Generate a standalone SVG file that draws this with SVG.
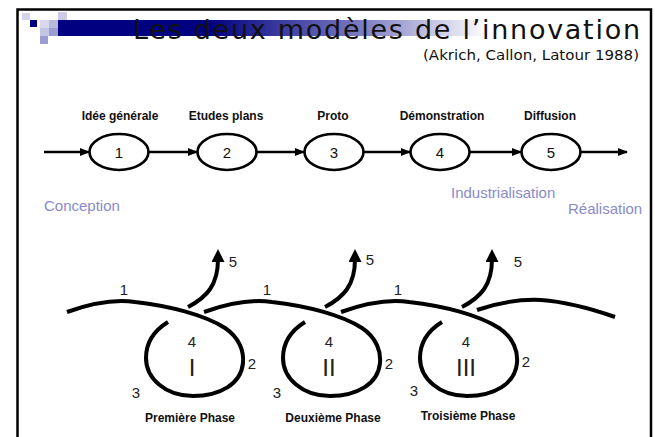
<svg xmlns="http://www.w3.org/2000/svg" width="655" height="437" viewBox="0 0 655 437">
<defs>
<linearGradient id="bar" x1="0" y1="0" x2="1" y2="0">
<stop offset="0" stop-color="#000080"/>
<stop offset="0.35" stop-color="#000080"/>
<stop offset="0.7" stop-color="#7a7ac0"/>
<stop offset="1" stop-color="#ffffff"/>
</linearGradient>
<marker id="ah" markerWidth="10" markerHeight="8" refX="9" refY="4" orient="auto" markerUnits="userSpaceOnUse">
<path d="M0,0 L10,4 L0,8 Z" fill="#000"/>
</marker>
<marker id="ah2" markerWidth="14" markerHeight="13" refX="3" refY="6.5" orient="auto" markerUnits="userSpaceOnUse">
<path d="M0,0 L13,6.5 L0,13 Z" fill="#000"/>
</marker>
<g id="phase">
<path class="sp" d="M67,312 C95,302 115,299 135,302 C170,306 205,315 225,328 C240,338 244,352 243,363 C241,384 220,396 193,396 C165,396 146,378 146,358 C146,342 155,330 168,322"/>
<path class="sp" d="M188,307 C207,297 218,285 218,259" marker-end="url(#ah2)"/>
</g>
</defs>
<style>
.sp{fill:none;stroke:#000;stroke-width:4;stroke-linecap:butt}
.el{fill:none;stroke:#000;stroke-width:2.6}
.ar{fill:none;stroke:#000;stroke-width:2.6}
.lab{font-family:"Liberation Sans",Arial,sans-serif;font-weight:bold;font-size:12px;fill:#111;text-anchor:middle}
.num{font-family:"Liberation Sans",Arial,sans-serif;font-size:15px;fill:#111;text-anchor:middle}
.sn{font-family:"Liberation Sans",Arial,sans-serif;font-size:15px;fill:#222;text-anchor:middle}
.rn{font-family:"Liberation Sans",Arial,sans-serif;font-size:24px;fill:#222;text-anchor:middle}
.lv{font-family:"Liberation Sans",Arial,sans-serif;font-size:15px;fill:#8a8acc}
</style>
<rect width="655" height="437" fill="#fff"/>
<rect x="17.5" y="9.5" width="633.5" height="450" fill="none" stroke="#000" stroke-width="2.5"/>
<g id="header">
<rect x="22" y="13" width="8" height="7" fill="#d4d4ea"/>
<rect x="30" y="20" width="7" height="7" fill="#000080"/>
<rect x="40" y="20" width="9" height="8" fill="#d8d8ee"/>
<rect x="49" y="20" width="9" height="8" fill="#b8b8dc"/>
<rect x="40" y="28" width="9" height="8" fill="#c4c4e4"/>
<rect x="49" y="28" width="9" height="8" fill="#9c9cd0"/>
<rect x="40" y="36" width="8" height="8" fill="#9c9cd0"/>
<rect x="58" y="12" width="9" height="8" fill="#ccccea"/>
<rect x="58" y="20" width="430" height="16" fill="url(#bar)"/>
<text x="640" y="39" text-anchor="end" font-family="DejaVu Sans,sans-serif" font-size="27" fill="#111" textLength="507" lengthAdjust="spacing">Les deux modèles de l’innovation</text>
<text x="639" y="60" text-anchor="end" font-family="DejaVu Sans,sans-serif" font-size="14.5" fill="#111" textLength="216" lengthAdjust="spacingAndGlyphs">(Akrich, Callon, Latour 1988)</text>
</g>
<g id="connectors">
<line class="ar" x1="44" y1="152" x2="89" y2="152" marker-end="url(#ah)"/>
<line class="ar" x1="149" y1="152" x2="197" y2="152" marker-end="url(#ah)"/>
<line class="ar" x1="257" y1="152" x2="304" y2="152" marker-end="url(#ah)"/>
<line class="ar" x1="364" y1="152" x2="410" y2="152" marker-end="url(#ah)"/>
<line class="ar" x1="470" y1="152" x2="521" y2="152" marker-end="url(#ah)"/>
<line class="ar" x1="581" y1="152" x2="627" y2="152" marker-end="url(#ah)"/>
</g>
<g id="n1"><text class="lab" x="120" y="120">Idée générale</text><ellipse class="el" cx="119" cy="152" rx="29.5" ry="18"/><text class="num" x="119" y="158">1</text></g>
<g id="n2"><text class="lab" x="226" y="120">Etudes plans</text><ellipse class="el" cx="227" cy="152" rx="29.5" ry="18"/><text class="num" x="227" y="158">2</text></g>
<g id="n3"><text class="lab" x="333" y="120">Proto</text><ellipse class="el" cx="334" cy="152" rx="29.5" ry="18"/><text class="num" x="334" y="158">3</text></g>
<g id="n4"><text class="lab" x="442" y="120">Démonstration</text><ellipse class="el" cx="440" cy="152" rx="29.5" ry="18"/><text class="num" x="440" y="158">4</text></g>
<g id="n5"><text class="lab" x="550" y="120">Diffusion</text><ellipse class="el" cx="551" cy="152" rx="29.5" ry="18"/><text class="num" x="551" y="158">5</text></g>
<g id="stages">
<text class="lv" x="44" y="211">Conception</text>
<text class="lv" x="451" y="198">Industrialisation</text>
<text class="lv" x="568" y="214">Réalisation</text>
</g>
<g id="phase1">
<use href="#phase"/>
<text class="sn" x="124" y="295">1</text>
<text class="sn" x="233" y="267">5</text>
<text class="sn" x="192" y="347">4</text>
<text class="rn" x="192" y="376">I</text>
<text class="sn" x="252" y="369">2</text>
<text class="sn" x="136" y="398">3</text>
<text class="lab" x="190" y="422">Première Phase</text>
</g>
<g id="phase2">
<use href="#phase" transform="translate(137,0)"/>
<text class="sn" x="267" y="295">1</text>
<text class="sn" x="370" y="265">5</text>
<text class="sn" x="329" y="347">4</text>
<text class="rn" x="329" y="376">II</text>
<text class="sn" x="389" y="369">2</text>
<text class="sn" x="277" y="398">3</text>
<text class="lab" x="333" y="422">Deuxième Phase</text>
</g>
<g id="phase3">
<use href="#phase" transform="translate(274,0)"/>
<text class="sn" x="398" y="295">1</text>
<text class="sn" x="518" y="267">5</text>
<text class="sn" x="466" y="347">4</text>
<text class="rn" x="466" y="376">III</text>
<text class="sn" x="526" y="367">2</text>
<text class="sn" x="414" y="396">3</text>
<text class="lab" x="468" y="420">Troisième Phase</text>
</g>
<g id="tail">
<path class="sp" d="M477,310 C500,302 520,299 541,300 C570,302 595,310 615,317"/>
</g>
</svg>
